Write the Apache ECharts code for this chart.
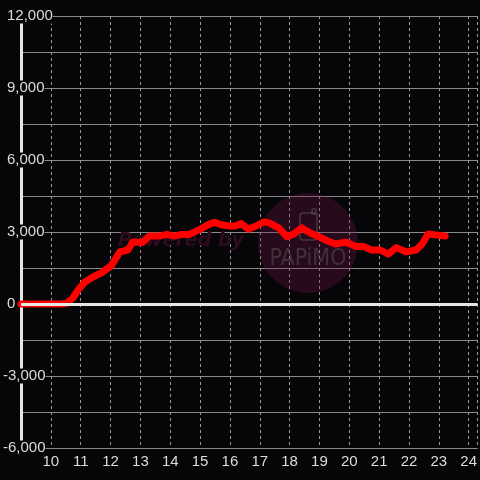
<!DOCTYPE html>
<html>
<head>
<meta charset="utf-8">
<script src="https://cdn.jsdelivr.net/npm/echarts@6/dist/echarts.min.js"></script>
<style>
html,body{margin:0;padding:0;background:#060609;}
#c{width:480px;height:480px;}
</style>
</head>
<body>
<div id="c"></div>
<script>
// hours of day (x) and values (y)
var hours = [9.0, 10.38, 10.55, 10.74, 10.91, 11.14, 11.41, 11.74, 12.04, 12.31, 12.58, 12.74, 13.07, 13.3,
  13.65, 13.88, 14.14, 14.38, 14.64, 14.98, 15.31, 15.48, 15.71, 15.98, 16.18, 16.38, 16.61, 16.88,
  17.14, 17.31, 17.64, 17.91, 18.14, 18.41, 18.71, 18.98, 19.24, 19.54, 19.88, 20.21, 20.48, 20.74,
  21.04, 21.31, 21.58, 21.91, 22.24, 22.44, 22.64, 22.88, 23.21];
var values = [0, 0, 40, 250, 580, 920, 1125, 1330, 1620, 2170, 2250, 2580, 2560, 2830,
  2830, 2900, 2830, 2900, 2900, 3100, 3330, 3400, 3300, 3250, 3250, 3350, 3120, 3250,
  3420, 3380, 3170, 2800, 2920, 3170, 2950, 2800, 2650, 2500, 2580, 2400, 2400, 2250,
  2250, 2080, 2350, 2170, 2250, 2500, 2920, 2880, 2830];
var yTicks = [-6000, -3000, 0, 3000, 6000, 9000, 12000];
var xTicks = [10, 11, 12, 13, 14, 15, 16, 17, 18, 19, 20, 21, 22, 23, 24];

var seriesData = hours.map(function (h, i) { return [h, values[i]]; });

function fmt(v) {
  var s = Math.abs(v).toString().replace(/\B(?=(\d{3})+(?!\d))/g, ',');
  return (v < 0 ? '-' : '') + s;
}

var FONT = '"Liberation Sans", Arial, sans-serif';
var chart = echarts.init(document.getElementById('c'), null, {renderer: 'canvas'});
chart.setOption({
  backgroundColor: '#060609',
  animation: false,
  grid: {left: 21, right: 0, top: 16, bottom: 32, containLabel: false},
  xAxis: {
    type: 'value', min: 9, max: 24.3, interval: 1, position: 'bottom',
    axisLine: {show: false, onZero: false},
    axisTick: {show: false},
    minorTick: {show: false}, minorSplitLine: {show: false},
    axisLabel: {
      color: '#dcdcdc', fontSize: 15, fontFamily: FONT, margin: 6,
      showMinLabel: false, showMaxLabel: false,
      formatter: function (v) { return xTicks.indexOf(v) >= 0 ? String(v) : ''; }
    },
    splitLine: {show: true, lineStyle: {color: '#9a9a9a', width: 1, type: [3, 3]}}
  },
  yAxis: {
    type: 'value', min: -6000, max: 12000, interval: 3000,
    axisLine: {show: true, lineStyle: {color: '#e6e6e6', width: 3}},
    axisTick: {show: false},
    minorTick: {show: false, splitNumber: 2},
    minorSplitLine: {show: true, lineStyle: {color: '#8a8a8a', width: 1}},
    splitLine: {show: true, lineStyle: {color: '#8a8a8a', width: 1}},
    axisLabel: {
      color: '#dcdcdc', fontSize: 15, fontFamily: FONT,
      align: 'left', margin: 18, backgroundColor: '#060609',
      formatter: function (v) {
        if (yTicks.indexOf(v) < 0) return '';
        return v < 0 ? '{n|' + fmt(v) + '}' : '{p|' + fmt(v) + '}';
      },
      rich: {
        p: {color: '#dcdcdc', fontSize: 15, fontFamily: FONT, padding: [0, 0, 0, 4]},
        n: {color: '#dcdcdc', fontSize: 15, fontFamily: FONT}
      }
    }
  },
  graphic: [
    {type: 'circle', z: 1, silent: true, shape: {cx: 308, cy: 243, r: 50},
      style: {fill: 'rgba(120,20,75,0.3)'}},
    {type: 'rect', z: 1, silent: true, shape: {x: 300, y: 213, width: 17, height: 27, r: 3},
      style: {fill: 'none', stroke: 'rgba(100,100,100,0.5)', lineWidth: 1.5}},
    {type: 'rect', z: 1, silent: true, shape: {x: 312, y: 209, width: 4, height: 5, r: 1},
      style: {fill: 'none', stroke: 'rgba(100,100,100,0.5)', lineWidth: 1.5}},
    {type: 'text', z: 1, silent: true, x: 308, y: 259,
      style: {text: 'PAPiMO', fill: 'rgba(85,85,85,0.5)', font: '23px "Liberation Sans Narrow", "DejaVu Sans Condensed", sans-serif',
        align: 'center', verticalAlign: 'middle'}},
    {type: 'text', z: 1, silent: true, x: 181, y: 241,
      style: {text: 'Powered by', fill: '#2e0b1d', font: 'italic bold 19px "DejaVu Sans"',
        align: 'center', verticalAlign: 'middle'}}
  ],
  series: [{
    type: 'line', data: [[9, 0]], symbol: 'none', z: 1,
    lineStyle: {opacity: 0},
    markLine: {
      silent: true, symbol: 'none', label: {show: false},
      lineStyle: {color: '#e6e6e6', width: 3, type: 'solid'},
      data: [{yAxis: 0}]
    }
  }, {
    type: 'line', data: seriesData, showSymbol: false, symbol: 'none',
    smooth: false, z: 3,
    lineStyle: {color: '#ff0000', width: 7, join: 'round', cap: 'round'}
  }]
});
</script>
</body>
</html>
